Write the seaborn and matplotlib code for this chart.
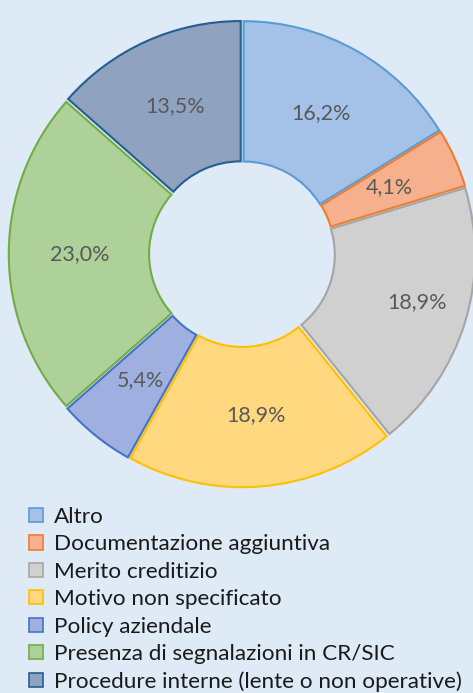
import matplotlib
matplotlib.use("Agg")
import matplotlib.pyplot as plt
from matplotlib.patches import Patch
import seaborn as sns

categories = ["Altro", "Documentazione aggiuntiva", "Merito creditizio",
              "Motivo non specificato", "Policy aziendale",
              "Presenza di segnalazioni in CR/SIC",
              "Procedure interne (lente o non operative)"]
shares = [16.2, 4.1, 18.9, 18.9, 5.4, 23.0, 13.5]

fills = ["#a4c2e8", "#f6b08e", "#d0d0d0", "#ffd87f", "#9fb0e0", "#aed19a", "#8fa2c0"]
edges = ["#5b9bd5", "#ed7d31", "#a5a5a5", "#ffc000", "#4472c4", "#70ad47", "#255e91"]
bg = "#deeaf6"

sns.set_style("white")
plt.rcParams["font.family"] = ["Lato", "DejaVu Sans"]

fig = plt.figure(figsize=(4.73, 6.93), dpi=100, facecolor=bg)
W, H = 473, 693
cx, cy, r = 242, 254, 230
ax = fig.add_axes([(cx - r) / W, (H - cy - r) / H, 2 * r / W, 2 * r / H])
ax.set_facecolor(bg)

wedges, texts, autotexts = ax.pie(
    shares, colors=fills, startangle=90, counterclock=False, radius=1,
    explode=[0.014] * len(shares),
    wedgeprops=dict(width=0.61, edgecolor="none"),
    autopct=lambda p: f"{p:.1f}%".replace(".", ","), pctdistance=0.69,
    textprops=dict(color="#595959", fontsize=15.5))
for w, ec in zip(wedges, edges):
    w.set_edgecolor(ec)
    w.set_linewidth(1.5)
# Excel pushes the grey label a bit outward
x, y = autotexts[2].get_position()
autotexts[2].set_position((x + 0.09, y))
ax.set_xlim(-1, 1)
ax.set_ylim(-1, 1)
ax.set_aspect("equal")
ax.axis("off")

handles = [Patch(facecolor=f, edgecolor=e, linewidth=1.2) for f, e in zip(fills, edges)]
leg = fig.legend(handles, categories, loc="upper left", bbox_to_anchor=(29 / W, 1 - 507 / H),
                 frameon=False, fontsize=16.2, handlelength=0.6, handleheight=0.6,
                 handletextpad=0.5, labelspacing=0.33, borderpad=0, borderaxespad=0)
for t in leg.get_texts():
    t.set_color("#1a1a1a")

fig.savefig("out.png", dpi=100, facecolor=bg)
